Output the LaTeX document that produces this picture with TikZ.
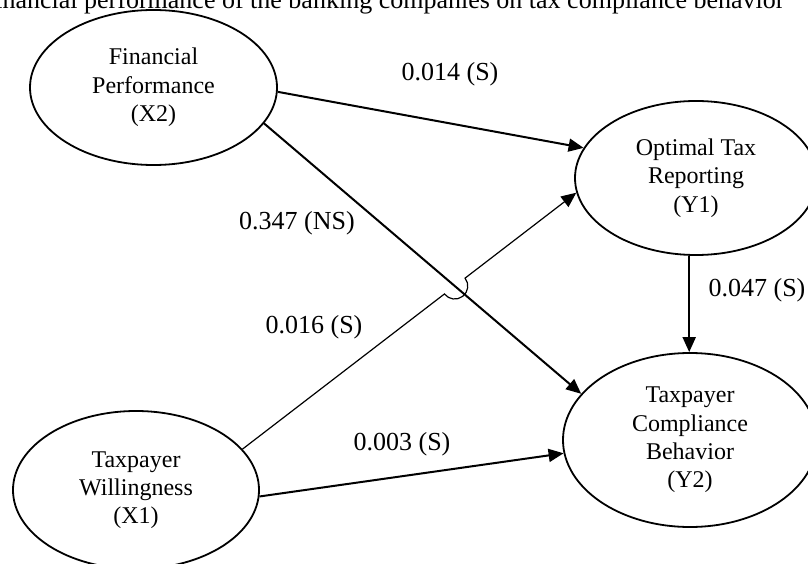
\documentclass[tikz,border=0pt]{standalone}
\usepackage{fontspec}
\setmainfont{Liberation Serif}
\usetikzlibrary{shapes.geometric,arrows.meta,calc}
\begin{document}
\begin{tikzpicture}[x=1pt,y=1pt,
  latent/.style={ellipse,draw,line width=1.8pt,align=center,inner sep=0pt,
    font=\fontsize{24}{28.3}\selectfont},
  thickpath/.style={line width=2pt,-{Triangle[length=15pt,width=13pt]}},
  thinpath/.style={line width=1.2pt,-{Triangle[length=15pt,width=13pt]}},
  coef/.style={font=\fontsize{26}{30}\selectfont,inner sep=0pt}]
\useasboundingbox (0,0) rectangle (808,563);
% clipped title line at the top
\node[coef,anchor=base west] (title) at (-13.5,554)
  {financial performance of the banking companies on tax compliance behavior};
% latent variables
\node[latent,minimum width=247pt,minimum height=155pt] (x2) at (153.5,475.5)
  {Financial\\Performance\\(X2)};
\node[latent,minimum width=242pt,minimum height=154pt] (y1) at (696,385)
  {Optimal Tax\\Reporting\\(Y1)};
\node[latent,minimum width=254pt,minimum height=174pt] (y2) at (690,123)
  {Taxpayer\\Compliance\\Behavior\\(Y2)};
\node[latent,minimum width=246pt,minimum height=158pt] (x1) at (136,73)
  {Taxpayer\\Willingness\\(X1)};
% connector end points
\coordinate (a1) at (x1.21.8);
\coordinate (b1) at (y1.-173.9);
\coordinate (a2) at (x2.-18.1);
\coordinate (b2) at (y2.157.8);
\coordinate (cr) at (intersection of a1--b1 and a2--b2);
% paths
\draw[thickpath] (x2.-2) -- (y1.165.4);
\draw[thickpath] (a2) -- (b2);
\draw[thinpath] let \p1=($(b1)-(a1)$), \n1={atan2(\y1,\x1)} in
  (a1) -- ($(cr)!13pt!(a1)$)
  arc[start angle=\n1+180, end angle=\n1+360, radius=13pt] -- (b1);
\draw[thickpath] (x1.-3.7) -- (y2.186.7);
\draw[thickpath] (y1.265) -- (y1.265 |- y2.north);
% coefficients
\node[coef] (c14) at (450,489) {0.014 (S)};
\node[coef] (c347) at (297,340) {0.347 (NS)};
\node[coef] (c16) at (314,236) {0.016 (S)};
\node[coef] (c03) at (402,119) {0.003 (S)};
\node[coef] (c47) at (757,273) {0.047 (S)};
\end{tikzpicture}
\end{document}
